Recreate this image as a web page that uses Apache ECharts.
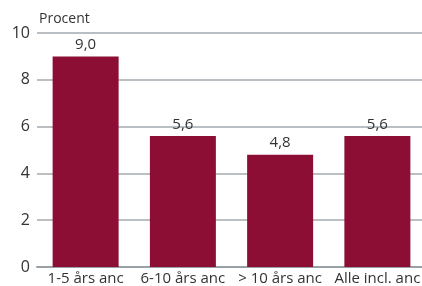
<!DOCTYPE html>
<html>
<head>
<meta charset="utf-8">
<script src="https://cdn.jsdelivr.net/npm/echarts@6/dist/echarts.min.js"></script>
<style>
  html, body { margin: 0; padding: 0; background: #fff; }
  #chart { width: 422px; height: 286px; }
</style>
</head>
<body>
<div id="chart"></div>
<script>
// data
const categories = ['1-5 års anc', '6-10 års anc', '> 10 års anc', 'Alle incl. anc']
const values = [9.0, 5.6, 4.8, 5.6]
const yTicks = [0, 2, 4, 6, 8, 10]

const chart = echarts.init(document.getElementById('chart'))

const fontFamily = 'Open Sans'

chart.setOption({
  animation: false,
  grid: {
    left: 37,
    width: 389,
    top: 33,
    height: 234,
    outerBoundsMode: 'none'
  },
  xAxis: {
    type: 'category',
    data: categories,
    axisLine: { lineStyle: { color: '#9aa1a6', width: 2 } },
    axisTick: { show: false },
    axisLabel: {
      interval: 0,
      color: '#333',
      fontSize: 15,
      fontFamily,
      margin: 4
    }
  },
  yAxis: {
    type: 'value',
    min: yTicks[0],
    max: yTicks[yTicks.length - 1],
    interval: 2,
    name: 'Procent',
    nameLocation: 'end',
    nameGap: 7,
    nameTextStyle: {
      color: '#333',
      fontSize: 14,
      fontFamily,
      align: 'left',
      padding: [0, 0, 0, 2]
    },
    axisLine: { show: false },
    axisTick: { show: false },
    axisLabel: {
      color: '#333',
      fontSize: 16,
      fontFamily,
      margin: 7
    },
    splitLine: { lineStyle: { color: '#b9bfc3', width: 2 } }
  },
  series: [{
    type: 'bar',
    data: values,
    barWidth: 66,
    itemStyle: { color: '#8c0e35' },
    label: {
      show: true,
      position: 'top',
      distance: 4,
      color: '#333',
      fontSize: 15,
      fontFamily,
      formatter: p => p.value.toFixed(1).replace('.', ',')
    }
  }]
})
</script>
</body>
</html>
